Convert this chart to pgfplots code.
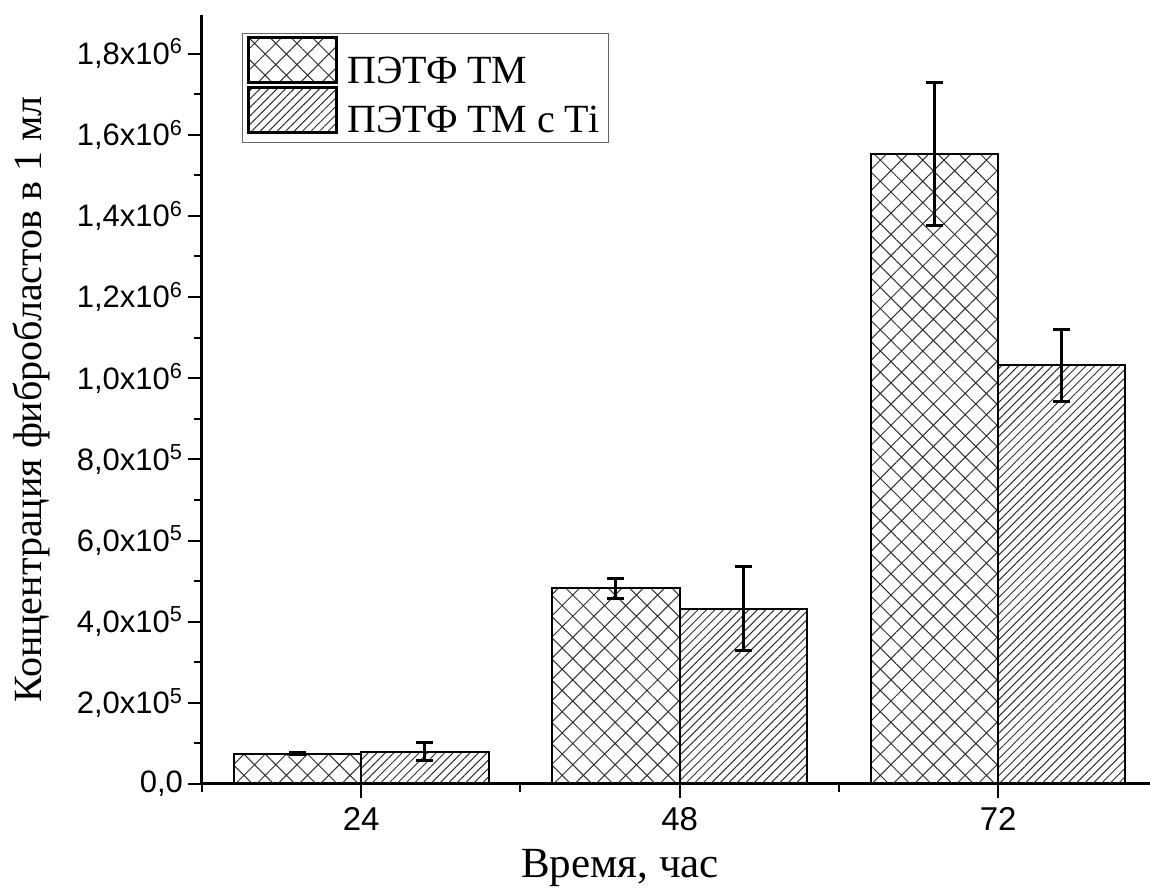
\documentclass[border=0pt]{standalone}
\usepackage{fontspec}
\setmainfont{Liberation Serif}
\newfontfamily\arial{Liberation Sans}
\usepackage{pgfplots}
\pgfplotsset{compat=1.18}
\usepackage{pgfplotstable}
\usetikzlibrary{patterns.meta}

\pgfplotsset{my legend/.style={legend image code/.code={\draw[##1,line width=1.5pt] (0pt,-5.5pt) rectangle (44pt,17pt);}}}

\pgfplotstableread{
x y err
1 74000 2500
2 482000 24000
3 1552000 176000
}\dataA
\pgfplotstableread{
x y err
1 79500 22000
2 431600 103500
3 1032000 89000
}\dataB

\begin{document}
\begin{tikzpicture}
\begin{axis}[
  scale only axis, width=474pt, height=384.5pt,
  xmin=0.5, xmax=3.477, ymin=0, ymax=1.895e6,
  axis x line*=bottom, axis y line*=left,
  axis line style={line width=1.5pt, black},
  ybar=0pt, bar width=0.4,
  xtick={1,2,3}, xticklabels={24,48,72},
  minor xtick={0.5,1.5,2.5},
  ytick={0,200000,400000,600000,800000,1000000,1200000,1400000,1600000,1800000},
  minor ytick={100000,300000,500000,700000,900000,1100000,1300000,1500000,1700000},
  yticklabels={{0,0},{2,0x10\textsuperscript{5}},{4,0x10\textsuperscript{5}},{6,0x10\textsuperscript{5}},{8,0x10\textsuperscript{5}},{1,0x10\textsuperscript{6}},{1,2x10\textsuperscript{6}},{1,4x10\textsuperscript{6}},{1,6x10\textsuperscript{6}},{1,8x10\textsuperscript{6}}},
  scaled y ticks=false,
  tick align=outside,
  major tick length=7pt, minor tick length=4pt,
  every tick/.style={line width=1pt, black},
  x tick label style={font=\arial\fontsize{16.5}{16.5}\selectfont, yshift=-1pt},
  y tick label style={font=\arial\fontsize{15.5}{15.5}\selectfont, xshift=1pt},
  xlabel={Время, час},
  ylabel={Концентрация фибробластов в 1 мл},
  xlabel style={font=\fontsize{21.5}{21.5}\selectfont, at={(axis description cs:0.441,-0.1222)}, anchor=base},
  ylabel style={font=\fontsize{20}{20}\selectfont, at={(axis description cs:-0.1688,0.5)}, anchor=base},
  legend style={at={(axis description cs:0.042,0.9766)}, anchor=north west,
    draw=black!60, line width=0.5pt, font=\fontsize{20}{20}\selectfont,
    inner xsep=2.5pt, inner ysep=1.5pt, row sep=-2.5pt, column sep=2.5pt},
  legend cell align=left,
  clip=false,
]
\addplot[draw=black, line width=1pt,
  pattern={Hatch[angle=45,distance=7.5pt,line width=0.5pt]}, pattern color=black!80,
  my legend,
  error bars/.cd, y dir=both, y explicit,
  error bar style={line width=1.5pt, solid, black},
  error mark options={rotate=90, line width=1.5pt, mark size=4.25pt, black}]
  table[x=x, y=y, y error=err]{\dataA};
\addlegendentry{ПЭТФ ТМ}
\addplot[draw=black, line width=1pt,
  pattern={Lines[angle=45,distance=3pt,line width=0.5pt]}, pattern color=black!80,
  my legend,
  error bars/.cd, y dir=both, y explicit,
  error bar style={line width=1.5pt, solid, black},
  error mark options={rotate=90, line width=1.5pt, mark size=4.25pt, black}]
  table[x=x, y=y, y error=err]{\dataB};
\addlegendentry{ПЭТФ ТМ с Ti}
\end{axis}
\pgfresetboundingbox
\path[use as bounding box] ([shift={(-101pt,-54pt)}]current axis.south west) rectangle ([shift={(0pt,7.5pt)}]current axis.north east);
\end{tikzpicture}
\end{document}
